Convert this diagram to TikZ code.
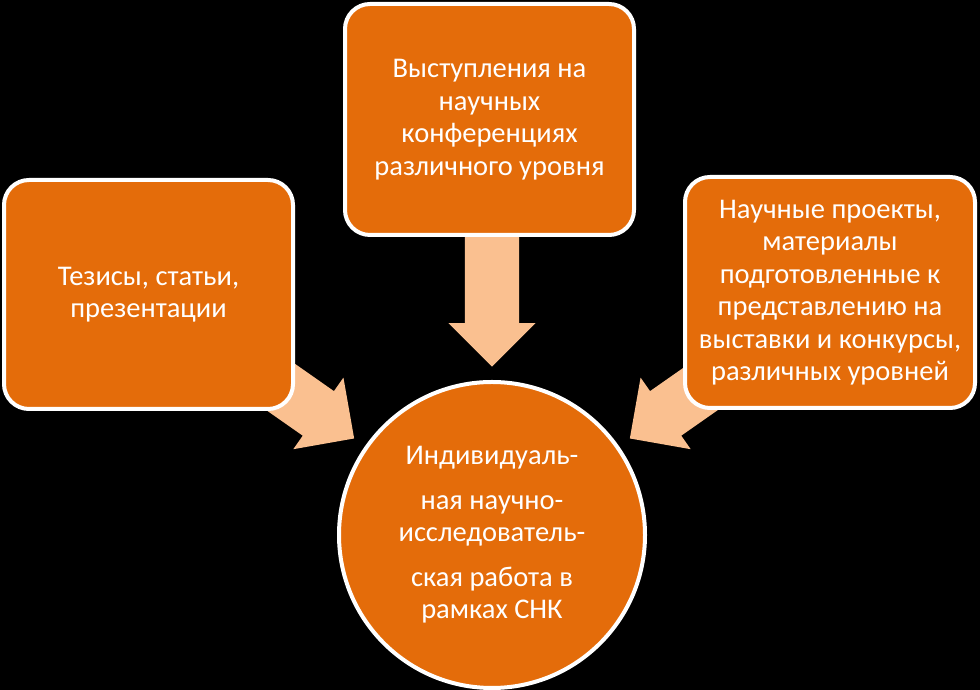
\documentclass[tikz,border=0pt]{standalone}
\usepackage{fontspec}
\setmainfont{Carlito}
\usetikzlibrary{shapes.arrows,calc}
\definecolor{snkorange}{HTML}{E46C0A}
\definecolor{snkpeach}{HTML}{FAC090}
\begin{document}
\begin{tikzpicture}[x=1pt,y=1pt]

      \fill[black] (0,0) rectangle (980,690);
      \useasboundingbox (0,0) rectangle (980,690);

      \coordinate (c) at (492,155);

      \begin{scope}[every node/.style={single arrow, fill=snkpeach, inner xsep=0pt, inner ysep=27pt,
          single arrow head extend=16.5pt, minimum width=1pt, minimum height=130pt, anchor=tip}]
        \node[rotate=270] (a1) at ($(c)+(90:168)$)  {};
        \node[rotate=325] (a2) at ($(c)+(145:168)$) {};
        \node[rotate=215] (a3) at ($(c)+(35:168)$)  {};
      \end{scope}

      \begin{scope}[every node/.style={draw=white, line width=4pt, fill=snkorange, text=white,
          align=center, font=\fontsize{28.5}{32.5}\selectfont}]
        \node[rounded corners=25pt, minimum width=289pt, minimum height=229pt] (thesis) at (148.5,395.5)
          {Тезисы, статьи,\\презентации};
        \node[rounded corners=25pt, minimum width=289pt, minimum height=231pt] (talks) at (489.5,570.5)
          {Выступления на\\научных\\конференциях\\различного уровня};
        \node[rounded corners=25pt, minimum width=290pt, minimum height=231pt] (projects) at (830,397.5)
          {Научные проекты,\\материалы\\подготовленные к\\представлению на\\выставки и конкурсы,\\различных уровней};
        \node[circle, minimum size=306pt, inner sep=0pt] (snk) at (c)
          {Индивидуаль-\\[12pt]ная научно-\\исследователь-\\[12pt]ская работа в\\рамках СНК};
      \end{scope}

    \end{tikzpicture}
\end{document}
